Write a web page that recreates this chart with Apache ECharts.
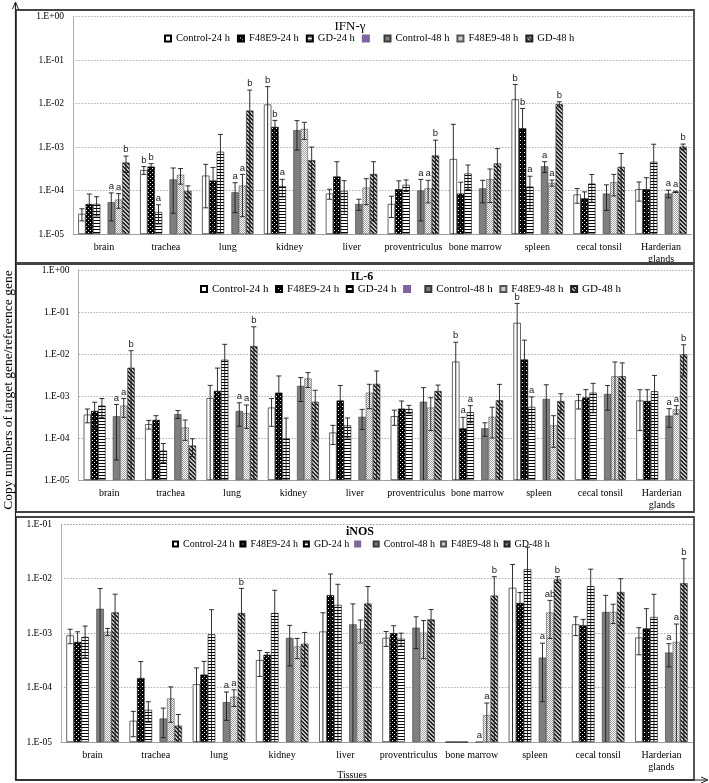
<!DOCTYPE html>
<html><head><meta charset="utf-8">
<script src="https://cdn.jsdelivr.net/npm/echarts@6/dist/echarts.min.js"></script>
<style>html,body{margin:0;padding:0;background:#fff}#c{width:709px;height:783px}</style>
</head><body><div id="c"></div>
<script>
// ---------- DATA ----------
const categories = ['brain','trachea','lung','kidney','liver','proventriculus','bone marrow','spleen','cecal tonsil','Harderian\nglands'];
const seriesNames = ['Control-24 h','F48E9-24 h','GD-24 h',' ','Control-48 h','F48E9-48 h','GD-48 h'];
const panelTitles = ['IFN-γ','IL-6','iNOS'];
const yTickLabels = ['1.E+00','1.E-01','1.E-02','1.E-03','1.E-04','1.E-05'];
const axisTitle = 'Copy numbers of target gene/reference gene';
const xTitle = 'Tissues';

// IFN-γ (rows: Control-24, F48E9-24, GD-24, Control-48, F48E9-48, GD-48)
const ifnMean = [
  [2.9e-5, 2.95e-4, 2.2e-4, 9.5e-3, 8.5e-5, 4.9e-5, 5.3e-4, 1.25e-2, 8.1e-5, 1.07e-4],
  [4.9e-5, 3.55e-4, 1.7e-4, 2.9e-3, 2.1e-4, 1.07e-4, 8.5e-5, 2.7e-3, 6.6e-5, 1.07e-4],
  [4.9e-5, 3.2e-5, 7.8e-4, 1.26e-4, 9.8e-5, 1.35e-4, 2.46e-4, 1.23e-4, 1.44e-4, 4.6e-4],
  [5.4e-5, 1.8e-4, 9.1e-5, 2.45e-3, 4.9e-5, 1.0e-4, 1.12e-4, 3.6e-4, 8.5e-5, 8.5e-5],
  [6.2e-5, 2.3e-4, 1.3e-4, 2.6e-3, 1.17e-4, 1.12e-4, 1.83e-4, 1.5e-4, 1.55e-4, 9.3e-5],
  [4.4e-4, 9.8e-5, 6.9e-3, 5.0e-4, 2.4e-4, 6.4e-4, 4.2e-4, 9.7e-3, 3.5e-4, 1.02e-3]
];
const ifnSd = [
  [0.9e-5, 0.6e-4, 1.8e-4, 1.5e-2, 2.2e-5, 2.5e-5, 2.8e-3, 1.5e-2, 3e-5, 5e-5],
  [3.4e-5, 0.6e-4, 1.7e-4, 1.2e-3, 2.5e-4, 6e-5, 7e-5, 5e-3, 2.7e-5, 9e-5],
  [2.3e-5, 1.5e-5, 1.17e-3, 0.55e-4, 7e-5, 4e-5, 1.4e-4, 9e-5, 9e-5, 7e-4],
  [3.4e-5, 1.5e-4, 6e-5, 1.6e-3, 1.4e-5, 8e-5, 6e-5, 1e-4, 5e-5, 1.7e-5],
  [2.3e-5, 0.9e-4, 1.05e-4, 1.1e-3, 7e-5, 6e-5, 1.3e-4, 2.4e-5, 8e-5, 3e-6],
  [1.8e-4, 3e-5, 1.35e-2, 5e-4, 2.2e-4, 8e-4, 5e-4, 1.3e-3, 3.6e-4, 1.5e-4]
];
const ifnLetters = [
  ['', 'b', '', 'b', '', '', '', 'b', '', ''],
  ['', 'b', '', 'b', '', '', '', 'b', '', ''],
  ['', 'a', '', 'a', '', '', '', 'a', '', ''],
  ['a', '', 'a', '', '', 'a', '', 'a', '', 'a'],
  ['a', '', 'a', '', '', 'a', '', 'a', '', 'a'],
  ['b', '', 'b', '', '', 'b', '', 'b', '', 'b']
];

// IL-6
const il6Mean = [
  [3.6e-4, 2.13e-4, 8.9e-4, 5.3e-4, 1.35e-4, 3.3e-4, 6.6e-3, 5.5e-2, 7.9e-4, 7.8e-4],
  [4.4e-4, 2.7e-4, 1.32e-3, 1.2e-3, 7.8e-4, 5.0e-4, 1.7e-4, 7.4e-3, 9.2e-4, 7.6e-4],
  [5.9e-4, 5.0e-5, 7.3e-3, 9.8e-5, 2.0e-4, 4.9e-4, 4.1e-4, 5.5e-4, 1.2e-3, 1.29e-3],
  [3.3e-4, 3.7e-4, 4.4e-4, 1.74e-3, 3.2e-4, 7.3e-4, 1.7e-4, 8.5e-4, 1.12e-3, 3.4e-4],
  [5.9e-4, 1.78e-4, 3.9e-4, 2.6e-3, 1.2e-3, 5.3e-4, 3.2e-4, 2.0e-4, 2.95e-3, 4.8e-4],
  [4.7e-3, 6.6e-5, 1.54e-2, 7.3e-4, 1.94e-3, 1.32e-3, 7.9e-4, 7.6e-4, 2.95e-3, 9.8e-3]
];
const il6Sd = [
  [1.3e-4, 5e-5, 9e-4, 3.4e-4, 6.5e-5, 1.3e-4, 1.24e-2, 1.05e-1, 3e-4, 6.3e-4],
  [2.7e-4, 7e-5, 3.3e-3, 1.8e-3, 1e-3, 2.6e-4, 1.4e-4, 1.4e-2, 5e-4, 6.5e-4],
  [2.8e-4, 2.4e-5, 9.7e-3, 2e-4, 1e-4, 1.1e-4, 1.8e-4, 4e-4, 8e-4, 1.8e-3],
  [3e-4, 8e-5, 2.5e-4, 1e-3, 1.6e-4, 8.5e-4, 6e-5, 1e-3, 6.6e-4, 1.6e-4],
  [2.8e-4, 9e-5, 2.2e-4, 1e-3, 7e-4, 3.8e-4, 2.2e-4, 1.4e-4, 3.5e-3, 1.1e-4],
  [7.3e-3, 3e-5, 2.9e-2, 6.4e-4, 2e-3, 5e-4, 1.1e-3, 3.7e-4, 3.2e-3, 6.8e-3]
];
const il6Letters = [
  ['', '', '', '', '', '', 'b', 'b', '', ''],
  ['', '', '', '', '', '', 'a', '', '', ''],
  ['', '', '', '', '', '', 'a', 'a', '', ''],
  ['a', '', 'a', '', '', '', '', '', '', 'a'],
  ['a', '', 'a', '', '', '', '', '', '', 'a'],
  ['b', '', 'b', '', '', '', '', '', '', 'b']
];

// iNOS
const inosMean = [
  [9.1e-4, 2.45e-5, 1.15e-4, 3.2e-4, 1.07e-3, 8.2e-4, 1e-5, 6.8e-3, 1.45e-3, 8.3e-4],
  [6.9e-4, 1.5e-4, 1.73e-4, 4.0e-4, 5.0e-3, 1.0e-3, 1e-5, 3.57e-3, 1.39e-3, 1.22e-3],
  [8.5e-4, 3.9e-5, 9.5e-4, 2.34e-3, 3.3e-3, 7.9e-4, 1e-5, 1.5e-2, 7.3e-3, 1.98e-3],
  [2.8e-3, 2.7e-5, 5.4e-5, 8.2e-4, 1.45e-3, 1.26e-3, 1e-5, 3.55e-4, 2.45e-3, 4.4e-4],
  [1.06e-3, 6.3e-5, 6.8e-5, 5.7e-4, 1.2e-3, 1.02e-3, 3.1e-5, 2.4e-3, 2.45e-3, 6.9e-4],
  [2.4e-3, 2.0e-5, 2.34e-3, 6.4e-4, 3.5e-3, 1.79e-3, 4.9e-3, 9.7e-3, 5.7e-3, 8.3e-3]
];
const inosSd = [
  [2.7e-4, 1.2e-5, 1.15e-4, 1.6e-4, 1.3e-3, 2.5e-4, 0, 1.15e-2, 5.5e-4, 4.3e-4],
  [3.7e-4, 1.5e-4, 1.3e-4, 4e-5, 7.2e-3, 3.7e-4, 0, 2e-3, 4e-4, 1.6e-3],
  [5e-4, 1.6e-5, 1.75e-3, 3.8e-3, 4.6e-3, 2.1e-4, 0, 2.3e-2, 7.7e-3, 3.2e-3],
  [3.8e-3, 1.5e-5, 2.9e-5, 5.7e-4, 2e-3, 7.4e-4, 0, 3e-4, 2.5e-3, 2e-4],
  [1.6e-4, 4e-5, 2.3e-5, 2.3e-4, 5.4e-4, 6.8e-4, 2.1e-5, 1.6e-3, 9.5e-4, 7.8e-4],
  [2.8e-3, 1.2e-5, 4.3e-3, 3.9e-4, 3.7e-3, 9.3e-4, 6e-3, 1.2e-3, 4.3e-3, 1.5e-2]
];
const inosLetters = [
  ['', '', '', '', '', '', '', '', '', ''],
  ['', '', '', '', '', '', '', '', '', ''],
  ['', '', '', '', '', '', '', '', '', ''],
  ['', '', 'a', '', '', '', 'a', 'a', '', 'a'],
  ['', '', 'a', '', '', '', 'a', 'ab', '', 'a'],
  ['', '', 'b', '', '', '', 'b', 'b', '', 'b']
];

const yMin = 1e-5;
const yMaxes = [1, 1, 1e-1];

// ---------- LAYOUT / STYLE ----------
const SERIF = 'Liberation Serif, Times New Roman, serif';
const layout = [
  {grid:{left:73, right:17, top:16.6, height:217.4}, titleX:350, titleTop:20, bold:'normal', titleSize:13,
   legendLeft:164, legendTop:33, legendFont:10.5, legendIcon:6, legendGap:7},
  {grid:{left:78.5, right:16.5, top:270, height:210}, titleX:362, titleTop:271, bold:'bold', titleSize:12,
   legendLeft:200, legendTop:283.5, legendFont:11, legendIcon:6, legendGap:6.5},
  {grid:{left:61, right:16, top:524.3, height:217.7}, titleX:360, titleTop:526, bold:'bold', titleSize:12,
   legendLeft:172, legendTop:539, legendFont:10, legendIcon:5, legendGap:5}
];
const boxes = [[16, 10, 678, 253], [16, 264, 678, 248], [16, 517, 678, 263]];
const CAT_GAP = 0.17;

function pat(w, h, bg, fg, px) {
  const c = document.createElement('canvas'); c.width = w; c.height = h;
  const g = c.getContext('2d'); g.fillStyle = bg; g.fillRect(0, 0, w, h);
  g.fillStyle = fg; px.forEach(p => g.fillRect(p[0], p[1], p[2] || 1, p[3] || 1));
  return {image: c, repeat: 'repeat'};
}
const fills = [
  '#ffffff',
  pat(4, 4, '#000000', '#ffffff', [[0,0],[2,2]]),
  pat(4, 3, '#ffffff', '#000000', [[0,1,4,1]]),
  '#8064a2',
  '#7f7f7f',
  pat(2, 2, '#ffffff', '#a0a0a0', [[0,0],[1,1]]),
  pat(4, 4, '#c4c4c4', '#262626', [[0,0,2,1],[1,1,2,1],[2,2,2,1],[3,3,1,1],[0,3,1,1]])
];
const borders = ['#000','#000','#000','#8064a2','#3a3a3a','#555','#222'];

const panelData = [
  {mean: ifnMean, sd: ifnSd, letters: ifnLetters},
  {mean: il6Mean, sd: il6Sd, letters: il6Letters},
  {mean: inosMean, sd: inosSd, letters: inosLetters}
];

const option = {
  animation: false,
  backgroundColor: '#fff',
  title: [], legend: [], grid: [], xAxis: [], yAxis: [], series: [],
  graphic: []
};

panelData.forEach((pd, p) => {
  const L = layout[p];
  option.grid.push(Object.assign({containLabel:false}, L.grid));
  option.title.push({
    text: panelTitles[p], left: L.titleX, top: L.titleTop, textAlign: 'center', padding: 0,
    textStyle: {fontFamily: SERIF, fontSize: L.titleSize, fontWeight: L.bold, color: '#000'}
  });
  option.legend.push({
    data: seriesNames, left: L.legendLeft, top: L.legendTop, padding: 0, selectedMode: false,
    itemWidth: L.legendIcon, itemHeight: L.legendIcon, itemGap: L.legendGap, icon: 'rect',
    textStyle: {fontFamily: SERIF, fontSize: L.legendFont, color: '#000'}
  });
  option.xAxis.push({
    type: 'category', data: categories, gridIndex: p,
    axisLine: {lineStyle: {color: '#a0a0a0'}},
    axisTick: {length: 4, lineStyle: {color: '#a0a0a0'}},
    axisLabel: {fontFamily: SERIF, fontSize: 10, color: '#000', margin: 7, interval: 0, lineHeight: 12}
  });
  option.yAxis.push({
    type: 'log', logBase: 10, min: yMin, max: yMaxes[p], startValue: yMin, gridIndex: p,
    axisLine: {show: true, lineStyle: {color: '#b0b0b0'}},
    axisTick: {show: false},
    splitLine: {lineStyle: {color: '#9a9a9a', type: [1.5, 1.5], width: 0.8}},
    axisLabel: {fontFamily: SERIF, fontSize: 9.5, color: '#000', margin: 9,
      formatter: v => yTickLabels[Math.round(-Math.log10(v))]}
  });
  seriesNames.forEach((name, s) => {
    const r = s < 3 ? s : s - 1;
    option.series.push({
      type: 'bar', name: name, xAxisIndex: p, yAxisIndex: p, silent: true,
      data: s === 3 ? categories.map(() => null) : pd.mean[r].slice(),
      barGap: '0%', barCategoryGap: (CAT_GAP * 100) + '%',
      itemStyle: {color: fills[s], borderColor: borders[s], borderWidth: 0.6}
    });
  });
  // error bars + significance letters
  const errData = [], errLetters = [];
  pd.mean.forEach((row, r) => {
    const slot = r < 3 ? r : r + 1;
    row.forEach((m, c) => {
      const sd = pd.sd[r][c];
      errData.push([c, slot, Math.max(m - sd, yMin), m + sd, m]);
      errLetters.push(pd.letters[r][c]);
    });
  });
  option.series.push({
    type: 'custom', xAxisIndex: p, yAxisIndex: p, silent: true, z: 5,
    data: errData, encode: {x: 0, y: 3},
    renderItem: (params, api) => {
      const c = api.value(0), slot = api.value(1), lo = api.value(2), hi = api.value(3), m = api.value(4);
      const bw = api.size([1, 1], [c, 1e-3])[0];
      const total = bw * (1 - CAT_GAP);
      const sw = total / 7;
      const ptHi = api.coord([c, hi]);
      const x = ptHi[0] - total / 2 + (slot + 0.5) * sw;
      const yHi = ptHi[1];
      const yLo = api.coord([c, lo])[1];
      const clipped = (m - (hi - m)) <= yMin;
      const children = [];
      const st = {stroke: '#1a1a1a', lineWidth: 0.9};
      if (hi > m) {
        children.push({type: 'line', shape: {x1: x, y1: yLo, x2: x, y2: yHi}, style: st});
        children.push({type: 'line', shape: {x1: x - 2.5, y1: yHi, x2: x + 2.5, y2: yHi}, style: st});
        if (!clipped) children.push({type: 'line', shape: {x1: x - 2.5, y1: yLo, x2: x + 2.5, y2: yLo}, style: st});
      }
      const t = errLetters[params.dataIndex];
      if (t) children.push({type: 'text', style: {text: t, x: x, y: yHi - 1.5, align: 'center', verticalAlign: 'bottom',
        fontFamily: 'Liberation Sans, Arial, sans-serif', fontSize: 9.5, fill: '#1a1a1a'}});
      return {type: 'group', children: children};
    }
  });
  const b = boxes[p];
  option.graphic.push({type: 'rect', shape: {x: b[0], y: b[1], width: b[2], height: b[3]}, z: 50, silent: true,
    style: {fill: 'none', stroke: '#444', lineWidth: 1.8}});
});

// outer axes with arrows and titles
option.graphic.push(
  {type: 'line', shape: {x1: 15.5, y1: 780, x2: 15.5, y2: 3}, z: 51, style: {stroke: '#222', lineWidth: 1.2}},
  {type: 'polyline', shape: {points: [[12.5, 9], [15.5, 2], [18.5, 9]]}, z: 51, style: {stroke: '#222', fill: 'none', lineWidth: 1}},
  {type: 'line', shape: {x1: 15.5, y1: 780, x2: 707, y2: 780}, z: 51, style: {stroke: '#222', lineWidth: 1.2}},
  {type: 'polyline', shape: {points: [[701, 777], [708, 780], [701, 783]]}, z: 51, style: {stroke: '#222', fill: 'none', lineWidth: 1}},
  {type: 'text', x: 8, y: 390, rotation: Math.PI / 2, z: 52,
   style: {text: axisTitle, fontFamily: SERIF, fontSize: 13.5, fill: '#000', align: 'center', verticalAlign: 'middle'}},
  {type: 'text', x: 352, y: 775, z: 52,
   style: {text: xTitle, fontFamily: SERIF, fontSize: 10, fill: '#000', align: 'center', verticalAlign: 'middle'}}
);

const chart = echarts.init(document.getElementById('c'), null, {renderer: 'canvas'});
chart.setOption(option);
</script>
</body></html>
